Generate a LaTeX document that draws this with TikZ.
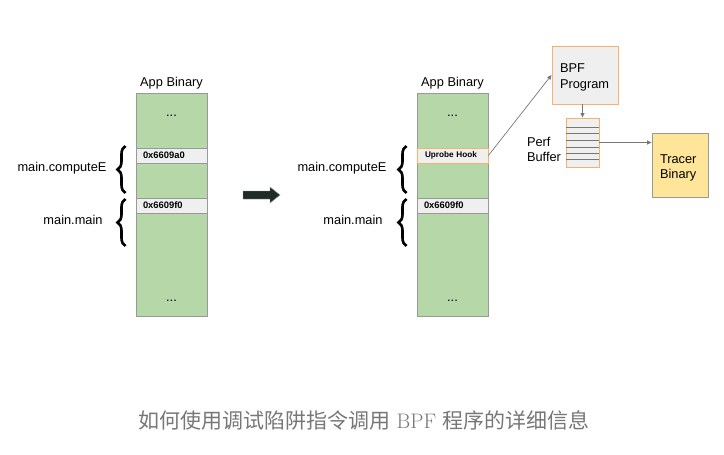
\documentclass[tikz,border=0pt]{standalone}
\usepackage{fontspec}
\newfontfamily\arial{Liberation Sans}
\newfontfamily\cjk{Noto Sans CJK SC}
\usetikzlibrary{arrows.meta,decorations.pathreplacing,calc}
\definecolor{colgreen}{HTML}{B6D7A8}
\definecolor{boxgray}{HTML}{999999}
\definecolor{cellgray}{HTML}{EFEFEF}
\definecolor{orangeb}{HTML}{F6B26B}
\definecolor{tracery}{HTML}{FFE599}
\definecolor{darkarrow}{HTML}{1E2B27}
\definecolor{capgray}{HTML}{777777}
\definecolor{lineg}{HTML}{777777}
\begin{document}
\begin{tikzpicture}[x=1pt,y=-1pt,
  lbl/.style={font=\arial\fontsize{12.8}{15.5}\selectfont, inner sep=0pt, align=left},
  col/.style={draw=boxgray, fill=colgreen, line width=0.8pt, minimum width=71pt, minimum height=223pt, inner sep=0pt},
  addr/.style={draw=boxgray, fill=cellgray, line width=0.8pt, minimum width=71pt, minimum height=15pt, inner sep=0pt, font=\arial\bfseries\fontsize{9.4}{10}\selectfont, text width=57pt, align=left},
  hookbox/.style={addr, draw=orangeb, font=\arial\bfseries\fontsize{8.2}{10}\selectfont, text width=55pt},
  brc/.style={decorate, decoration={brace, amplitude=8pt}, line width=2.6pt},
  conn/.style={draw=lineg, line width=0.7pt, -{Triangle[length=4.5pt,width=4pt]}},
  bpfbox/.style={draw=orangeb, fill=cellgray, line width=0.9pt, minimum width=66pt, minimum height=58pt, inner sep=0pt, text width=50pt, align=left, font=\arial\fontsize{12.8}{16}\selectfont},
  perfbox/.style={draw=orangeb, fill=cellgray, line width=0.9pt, minimum width=33pt, minimum height=49pt, inner sep=0pt},
  tracerbox/.style={draw=boxgray, fill=tracery, line width=0.9pt, minimum width=56pt, minimum height=64pt, inner sep=0pt, text width=40pt, align=left, font=\arial\fontsize{12.8}{16}\selectfont},
  dots/.style={font=\arial\fontsize{12.8}{14}\selectfont, inner sep=0pt, anchor=base}
]
\useasboundingbox (0,0) rectangle (724,455);

% left column
\node[col] (colL) at (171.5,204.5) {};
\node[lbl] (appL) at (171.5,83) {App Binary};
\node[dots] (dotsL1) at (171.5,116) {...};
\node[dots] (dotsL2) at (171.5,301) {...};
\node[addr] (addrL1) at (171.5,155.5) {0x6609a0};
\node[addr] (addrL2) at (171.5,205.5) {0x6609f0};
\draw[brc] (125.5,193) -- (125.5,146);
\draw[brc] (125.5,246) -- (125.5,199);
\node[lbl] (fnL1) at (62,168) {main.computeE};
\node[lbl] (fnL2) at (73,220) {main.main};

% big arrow
\filldraw[fill=darkarrow, draw=boxgray, line width=0.4pt]
  (243,191) -- (270,191) -- (270,187) -- (280,195) -- (270,203) -- (270,199) -- (243,199) -- cycle;

% right column
\node[col] (colR) at (452.5,204.5) {};
\node[lbl] (appR) at (452.5,83) {App Binary};
\node[dots] (dotsR1) at (452.5,116) {...};
\node[dots] (dotsR2) at (452.5,301) {...};
\node[hookbox] (hook) at (452.5,155.5) {Uprobe Hook};
\node[addr] (addrR2) at (452.5,205.5) {0x6609f0};
\draw[brc] (406.5,193) -- (406.5,146);
\draw[brc] (406.5,246) -- (406.5,199);
\node[lbl] (fnR1) at (342,168) {main.computeE};
\node[lbl] (fnR2) at (353,220) {main.main};

% BPF side
\node[bpfbox] (bpf) at (585,75) {};
\node[lbl, text width=50pt] (bpflbl) at (585,77.5) {BPF\\Program};
\node[perfbox] (perf) at (582.5,142.5) {};
\foreach \yy in {127,133,140,147,153,159}
  \draw[lineg, line width=0.7pt] (perf.west |- 0,\yy) -- (perf.east |- 0,\yy);
\node[lbl] (perflbl) at (544,149.5) {Perf\\Buffer};
\node[tracerbox] (tracer) at (680,165) {};
\node[lbl, text width=40pt] (tracerlbl) at (680,168) {Tracer\\Binary};

\draw[conn] (hook.east) -- (bpf.west);
\draw[conn] (bpf.south -| perf.north) -- (perf.north);
\draw[conn] (perf.east) -- (tracer.west |- perf.east);

% caption
\node[inner sep=0pt, text=capgray, font=\fontsize{21}{24}\selectfont] (cap) at (364,420)
  {{\cjk 如何使用调试陷阱指令调用} BPF {\cjk 程序的详细信息}};
\end{tikzpicture}
\end{document}
